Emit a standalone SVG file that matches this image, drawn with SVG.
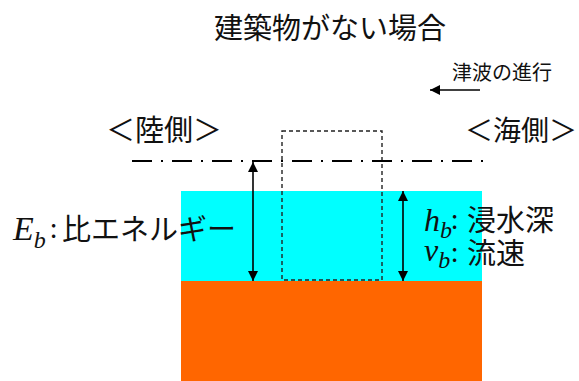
<svg xmlns="http://www.w3.org/2000/svg" width="579" height="381" viewBox="0 0 579 381">
<defs>
<style>
.jp{font-family:"Noto Sans CJK JP","Noto Sans",sans-serif;fill:#111}
.it{font-family:"Liberation Serif",serif;font-style:italic;fill:#111}
.ax{stroke:#000;stroke-width:1.6;fill:none}
</style>
<marker id="ah" viewBox="0 0 10 10" refX="10" refY="5" markerWidth="10" markerHeight="10" markerUnits="userSpaceOnUse" orient="auto-start-reverse">
<path d="M0,0 L10,5 L0,10 z" fill="#000"/>
</marker>
</defs>
<rect width="579" height="381" fill="#fff"/>
<g id="water"><rect x="181" y="191" width="301" height="90" fill="#00FFFF"/></g>
<g id="ground"><rect x="181" y="281" width="301" height="100" fill="#FF6600"/></g>
<g id="building"><rect x="282" y="131" width="100" height="149" fill="none" stroke="#222" stroke-width="1.4" stroke-dasharray="4,3"/></g>
<g id="energy-line"><line x1="132" y1="161" x2="484" y2="161" stroke="#000" stroke-width="2.2" stroke-dasharray="20,9,2,9"/></g>
<g id="connectors">
<line class="ax" x1="253" y1="162" x2="253" y2="281" marker-start="url(#ah)" marker-end="url(#ah)"/>
<line class="ax" x1="403" y1="191" x2="403" y2="281" marker-start="url(#ah)" marker-end="url(#ah)"/>
<line class="ax" x1="480" y1="90" x2="430" y2="90" marker-end="url(#ah)"/>
</g>
<g id="title"><text class="jp" x="330" y="39" font-size="29" text-anchor="middle">建築物がない場合</text></g>
<g id="tsunami-label"><text class="jp" x="452" y="80" font-size="20">津波の進行</text></g>
<g id="land-label"><text class="jp" x="106" y="141" font-size="29">＜陸側＞</text></g>
<g id="sea-label"><text class="jp" x="465" y="141" font-size="28">＜海側＞</text></g>
<g id="eb-label">
<text class="it" x="13" y="240" font-size="34">E<tspan font-size="24" dy="8">b</tspan><tspan class="jp" style="font-style:normal" font-size="26" x="50" y="238">:</tspan><tspan class="jp" style="font-style:normal" font-size="29" x="62" y="240">比エネルギー</tspan></text>
</g>
<g id="hv-label">
<text class="it" font-size="32"><tspan x="424" y="231">h</tspan><tspan font-size="24" dy="7">b</tspan><tspan class="jp" style="font-style:normal" font-size="26" x="451" y="229">:</tspan><tspan class="jp" style="font-style:normal" font-size="29" x="467" y="231">浸水深</tspan><tspan x="424" y="261">v</tspan><tspan font-size="24" dy="7">b</tspan><tspan class="jp" style="font-style:normal" font-size="26" x="451" y="262">:</tspan><tspan class="jp" style="font-style:normal" font-size="29" x="467" y="264">流速</tspan></text>
</g>
</svg>
